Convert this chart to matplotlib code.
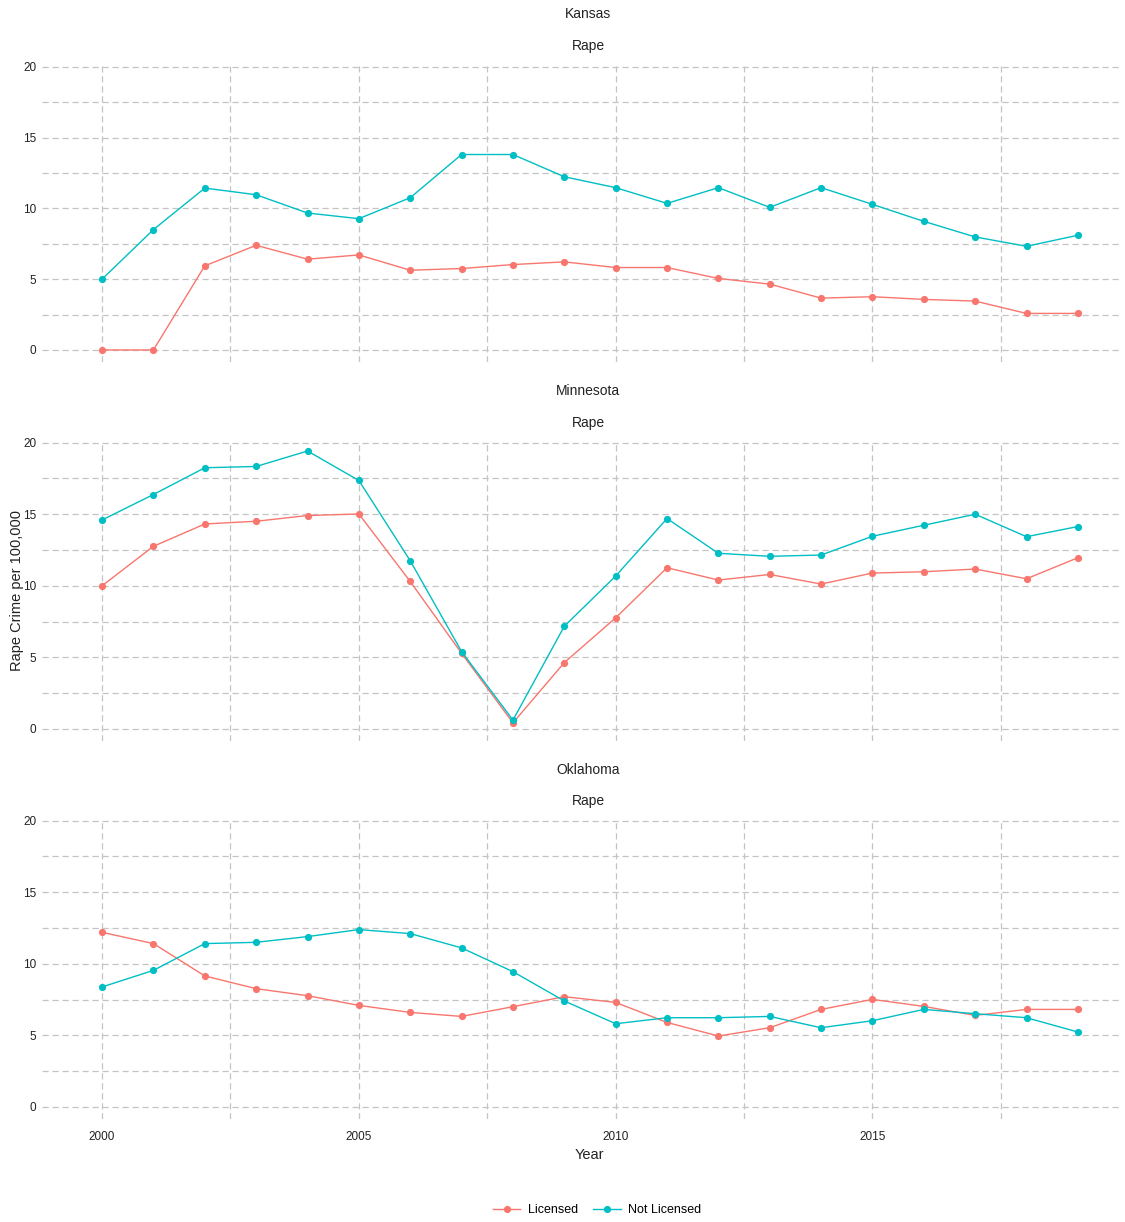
import matplotlib
matplotlib.use("Agg")
import matplotlib.pyplot as plt
from matplotlib.lines import Line2D

plt.rcParams['font.family'] = ['Liberation Sans', 'DejaVu Sans']

years = list(range(2000, 2020))
states = ["Kansas", "Minnesota", "Oklahoma"]
crime = "Rape"

kansas_licensed = [0, 0, 5.94, 7.39, 6.41, 6.71, 5.63, 5.75, 6.03, 6.22,
                   5.82, 5.82, 5.05, 4.65, 3.66, 3.76, 3.57, 3.45, 2.58, 2.58]
kansas_not = [5.0, 8.5, 11.43, 10.96, 9.67, 9.27, 10.75, 13.8, 13.8, 12.23,
              11.46, 10.35, 11.46, 10.07, 11.46, 10.28, 9.08, 7.98, 7.32, 8.1]
minnesota_licensed = [10.0, 12.76, 14.32, 14.51, 14.91, 15.02, 10.3, 5.28, 0.42, 4.63,
                      7.76, 11.26, 10.4, 10.79, 10.12, 10.89, 10.98, 11.17, 10.49, 11.96]
minnesota_not = [14.6, 16.38, 18.25, 18.34, 19.42, 17.36, 11.75, 5.4, 0.61, 7.17,
                 10.68, 14.7, 12.27, 12.06, 12.15, 13.46, 14.23, 15.0, 13.43, 14.14]
oklahoma_licensed = [12.2, 11.41, 9.15, 8.26, 7.77, 7.09, 6.6, 6.32, 7.0, 7.7,
                     7.3, 5.9, 4.95, 5.53, 6.81, 7.51, 7.02, 6.39, 6.81, 6.81]
oklahoma_not = [8.38, 9.54, 11.41, 11.5, 11.9, 12.39, 12.11, 11.11, 9.45, 7.4,
                5.81, 6.23, 6.23, 6.32, 5.53, 6.02, 6.81, 6.51, 6.23, 5.23]

licensed = [kansas_licensed, minnesota_licensed, oklahoma_licensed]
not_licensed = [kansas_not, minnesota_not, oklahoma_not]
series_names = ["Licensed", "Not Licensed"]
colors = ["#F8766D", "#00BFC4"]

y_ticks = [0, 5, 10, 15, 20]
y_minor = [2.5, 7.5, 12.5, 17.5]
x_ticks = [2000, 2005, 2010, 2015]
x_minor = [2002.5, 2007.5, 2012.5, 2017.5]

W, H = 1125, 1222
fig = plt.figure(figsize=(W / 100, H / 100), dpi=100)

left_px, right_px = 42, 1120
panels_px = [(66, 362), (442, 741), (820, 1119)]
title_y = [14, 391, 770]
sub_y = [46, 423, 801]

grid_kw = dict(color="#C4C4C4", linewidth=0.9, linestyle=(0, (5, 3)))

for i, (top, bot) in enumerate(panels_px):
    ax = fig.add_axes([left_px / W, 1 - bot / H, (right_px - left_px) / W, (bot - top) / H])
    ax.set_xlim(1998.83, 2019.82)
    ax.set_ylim(-0.85, 20.05)
    for s in ax.spines.values():
        s.set_visible(False)
    ax.set_yticks(y_ticks)
    ax.set_yticks(y_minor, minor=True)
    ax.set_xticks(x_ticks)
    ax.set_xticks(x_minor, minor=True)
    ax.grid(True, which="both", **grid_kw)
    ax.tick_params(which="both", length=0)
    ax.tick_params(axis="y", labelsize=8.5, pad=4, labelcolor="#222222")
    ax.tick_params(axis="x", labelsize=8.5, pad=9, labelcolor="#222222")
    if i < 2:
        ax.set_xticklabels([])
    ax.set_axisbelow(True)
    for vals, c in zip([licensed[i], not_licensed[i]], colors):
        ax.plot(years, vals, color=c, linewidth=1.0, marker="o", markersize=5.2,
                markeredgewidth=0, zorder=3)
    fig.text(588 / W, 1 - title_y[i] / H, states[i], ha="center", va="center",
             fontsize=10, color="#222222")
    fig.text(588 / W, 1 - sub_y[i] / H, crime, ha="center", va="center",
             fontsize=10, color="#222222")

fig.text(17 / W, 1 - 590 / H, "Rape Crime per 100,000", rotation=90,
         ha="center", va="center", fontsize=10.5, color="#222222")
fig.text(589 / W, 1 - 1155 / H, "Year", ha="center", va="center",
         fontsize=10.5, color="#222222")

handles = [Line2D([0], [0], color=c, linewidth=1.0, marker="o", markersize=5.2,
                  markeredgewidth=0) for c in colors]
fig.legend(handles, series_names, loc="center", bbox_to_anchor=(597 / W, 1 - 1210 / H),
           ncol=2, frameon=False, fontsize=9, handlelength=2.2, columnspacing=1.2,
           handletextpad=0.6)

fig.savefig("out.png", dpi=100)
